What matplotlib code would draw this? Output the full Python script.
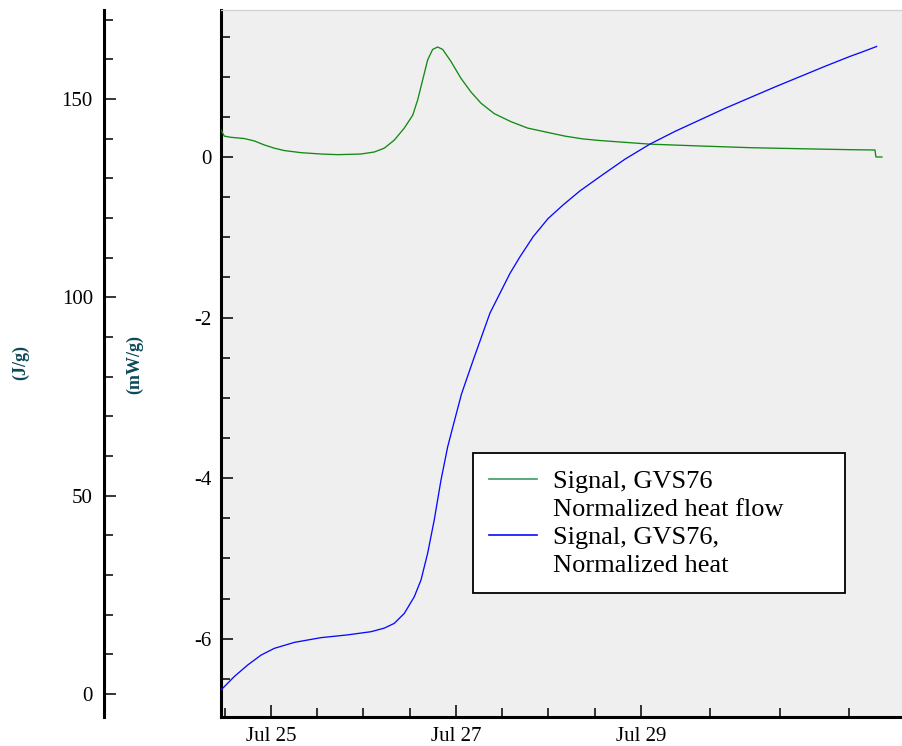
import numpy as np
import pandas as pd
import matplotlib
matplotlib.use("Agg")
import matplotlib.pyplot as plt
import matplotlib.dates as mdates
from matplotlib.lines import Line2D
from matplotlib.ticker import MultipleLocator, FixedLocator, FormatStrFormatter

plt.rcParams['font.family'] = ['Liberation Serif', 'DejaVu Serif']
plt.rcParams['axes.unicode_minus'] = False

# ---- data (hours since Jul 24 00:00) ----
t0 = pd.Timestamp('2023-07-24 00:00')

flow_hours = [11.03, 11.88, 13.62, 17.07, 19.67, 22.26, 24.86, 27.45, 31.78, 36.97,
              41.31, 47.35, 50.80, 53.40, 55.99, 58.59, 60.77, 62.06, 63.36, 64.66,
              65.95, 67.25, 68.55, 70.70, 73.30, 75.89, 78.49, 81.94, 86.27, 90.60,
              96.39, 100.28, 104.95, 109.36, 113.70, 122.34, 135.31, 148.28, 161.26,
              174.23, 180.72, 180.98, 182.53]
flow_mw = [0.336, 0.26, 0.245, 0.23, 0.20, 0.15, 0.11, 0.08, 0.054, 0.037,
           0.029, 0.037, 0.062, 0.11, 0.21, 0.36, 0.52, 0.71, 0.96, 1.21,
           1.34, 1.37, 1.34, 1.19, 0.98, 0.81, 0.67, 0.54, 0.44, 0.36,
           0.30, 0.26, 0.225, 0.205, 0.19, 0.16, 0.137, 0.116, 0.103,
           0.091, 0.087, 0.0, 0.0]

heat_hours = [11.03, 14.48, 17.95, 21.41, 24.86, 30.05, 36.97, 43.90, 49.95, 53.40,
              55.99, 58.59, 61.18, 62.92, 64.66, 66.37, 68.11, 69.85, 71.56, 73.43,
              76.49, 80.82, 86.01, 88.61, 92.06, 95.87, 99.84, 104.17, 109.36, 115.85,
              122.34, 128.83, 135.31, 141.80, 148.28, 154.77, 161.26, 167.74, 174.23,
              177.34, 181.15]
heat_jg = [1.0, 4.4, 7.3, 9.8, 11.5, 13.0, 14.2, 14.9, 15.7, 16.6,
           17.8, 20.3, 24.5, 28.7, 35.5, 43.9, 53.9, 62.3, 68.7, 75.6,
           84.2, 96.0, 106.0, 110.2, 115.3, 119.8, 123.3, 126.8, 130.4, 134.8,
           138.6, 141.8, 144.7, 147.6, 150.3, 153.0, 155.6, 158.2, 160.7,
           161.8, 163.2]

flow_label = "Signal, GVS76"
flow_label2 = "Normalized heat flow"
heat_label = "Signal, GVS76,"
heat_label2 = "Normalized heat"

inner_ylabel = "(mW/g)"
outer_ylabel = "(J/g)"

major_day_hours = [24, 72, 120]
minor_hours = [12, 36, 48, 60, 84, 96, 108, 138, 156, 174]

flow_t = t0 + pd.to_timedelta(flow_hours, unit='h')
heat_t = t0 + pd.to_timedelta(heat_hours, unit='h')

W, H = 903, 746
fig = plt.figure(figsize=(W / 100, H / 100), dpi=100)
left, right, top, bottom = 221, 903, 10, 717
ax = fig.add_axes([left / W, 1 - bottom / H, (right - left) / W, (bottom - top) / H])
ax.set_facecolor('#efefef')

green = '#138a13'
blue = '#0a0aff'

ax.plot(flow_t, flow_mw, color=green, lw=0.95, zorder=3)

ax.set_ylim(-6.976, 1.831)
ax.set_xlim(mdates.date2num(t0 + pd.Timedelta(hours=11.03)), mdates.date2num(t0 + pd.Timedelta(hours=188.0)))
ax.yaxis.set_major_locator(FixedLocator([0, -2, -4, -6]))
ax.yaxis.set_minor_locator(MultipleLocator(0.5))
ax.yaxis.set_major_formatter(FormatStrFormatter('%d'))

ax.xaxis.set_major_locator(FixedLocator([mdates.date2num(t0 + pd.Timedelta(hours=h)) for h in major_day_hours]))
ax.xaxis.set_minor_locator(FixedLocator([mdates.date2num(t0 + pd.Timedelta(hours=h)) for h in minor_hours]))
ax.xaxis.set_major_formatter(mdates.DateFormatter('%b %d'))

ax.tick_params(axis='both', which='major', direction='in', length=8.6, width=1.1, labelsize=15, pad=6.5, color='black')
ax.tick_params(axis='both', which='minor', direction='in', length=6.2, width=1.1, color='black')
ax.tick_params(axis='x', which='major', pad=7)
ax.tick_params(axis='y', which='both', right=False)
ax.tick_params(axis='x', which='both', top=False)

for s in ['left', 'bottom']:
    ax.spines[s].set_linewidth(2.2)
    ax.spines[s].set_color('black')
ax.spines['top'].set_color('#d0d0d0')
ax.spines['top'].set_linewidth(0.9)
ax.spines['right'].set_visible(False)

# outer axis (J/g)
ax2 = ax.twinx()
ax2.patch.set_visible(False)
ax2.yaxis.set_ticks_position('left')
ax2.yaxis.set_label_position('left')
ax2.spines['left'].set_position(('axes', (104 - left) / (right - left)))
ax2.spines['left'].set_visible(True)
ax2.spines['left'].set_linewidth(2.2)
for s in ['right', 'top', 'bottom']:
    ax2.spines[s].set_visible(False)
ax2.set_ylim(-5.8, 172.4)
ax2.yaxis.set_major_locator(FixedLocator([0, 50, 100, 150]))
ax2.yaxis.set_minor_locator(MultipleLocator(10))
ax2.tick_params(axis='y', which='major', direction='in', length=8.6, width=1.1, labelsize=15, pad=8)
ax2.tick_params(axis='y', which='minor', direction='in', length=6.2, width=1.1)

ax2.plot(heat_t, heat_jg, color=blue, lw=0.95, zorder=3)

# axis labels
lab_color = '#0d4a5a'
fig.text(21 / W, 1 - 363 / H, outer_ylabel, rotation=90, ha='center', va='center',
         fontsize=13, fontweight='bold', color=lab_color)
fig.text(135 / W, 1 - 364 / H, inner_ylabel, rotation=90, ha='center', va='center',
         fontsize=13, fontweight='bold', color=lab_color)

# legend
handles = [Line2D([], [], color='#3c9a64', lw=1.2),
           Line2D([], [], color='none'),
           Line2D([], [], color=blue, lw=1.2),
           Line2D([], [], color='none')]
labels = [flow_label, flow_label2, heat_label, heat_label2]
bx0 = (473 - left) / (right - left)
bw = (845 - 473) / (right - left)
by1 = (bottom - 453) / (bottom - top)
by0 = (bottom - 593) / (bottom - top)
leg = ax2.legend(handles, labels, loc='upper left', bbox_to_anchor=(bx0, by0, bw, by1 - by0),
                 mode='expand', borderaxespad=0, fontsize=19, frameon=True, fancybox=False,
                 edgecolor='black', facecolor='white', framealpha=1, handlelength=1.82,
                 handletextpad=0.6, labelspacing=0.174, borderpad=0.62)
leg.get_frame().set_linewidth(1.3)

fig.savefig('out.png', dpi=100)
